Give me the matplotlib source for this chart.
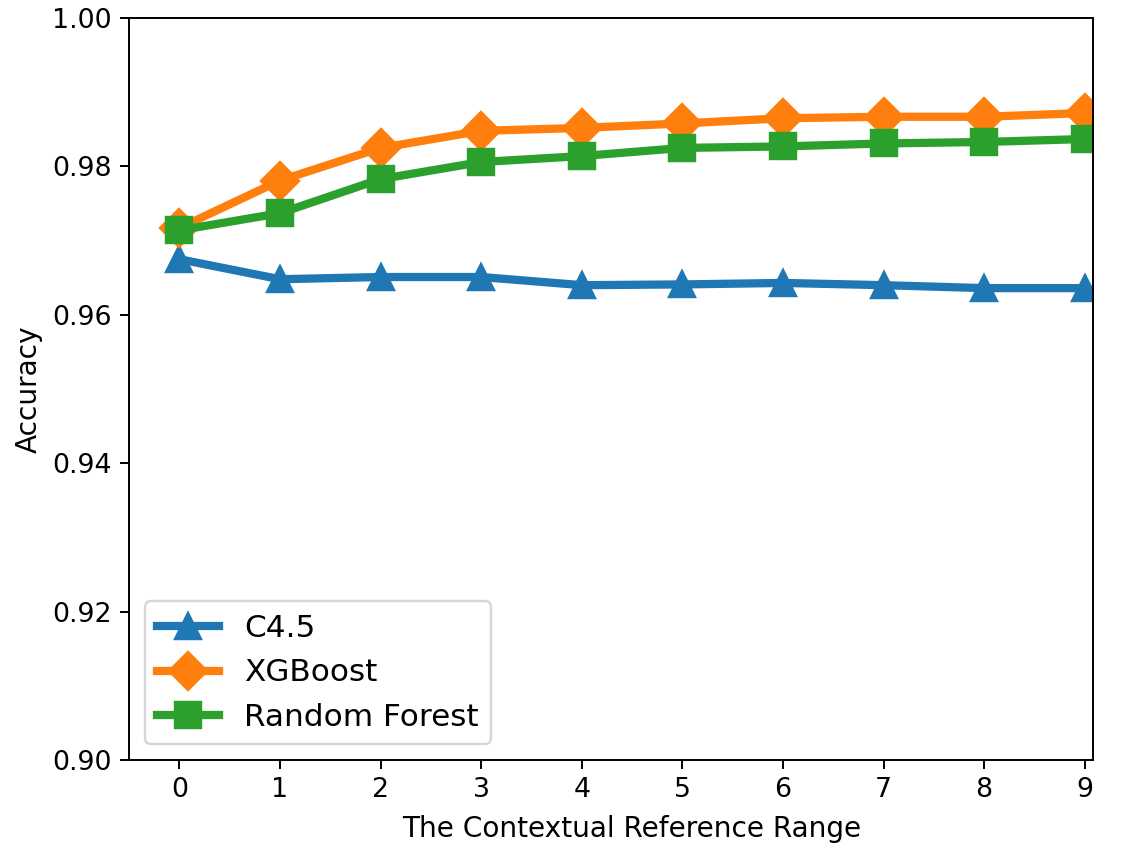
import matplotlib
matplotlib.use('Agg')
import matplotlib.pyplot as plt

# values
ranges = [0, 1, 2, 3, 4, 5, 6, 7, 8, 9]
c45 = [0.9675, 0.9648, 0.9651, 0.9651, 0.9640, 0.9641, 0.9643, 0.9640, 0.9636, 0.9636]
xgboost = [0.9717, 0.9781, 0.9825, 0.9848, 0.9852, 0.9858, 0.9865, 0.9867, 0.9867, 0.9872]
random_forest = [0.9714, 0.9737, 0.9783, 0.9806, 0.9814, 0.9825, 0.9827, 0.9831, 0.9833, 0.9837]

fig = plt.figure(figsize=(1122 / 175, 845 / 175), dpi=175)
ax = fig.add_axes([0.115, 0.1006, 0.859, 0.878])

ax.plot(ranges, c45, marker='^', linewidth=3.4, markersize=11, label='C4.5')
ax.plot(ranges, xgboost, marker='D', linewidth=3.4, markersize=11, label='XGBoost')
ax.plot(ranges, random_forest, marker='s', linewidth=3.4, markersize=11, label='Random Forest')

ax.set_xlim(-0.5, 9.08)
ax.set_ylim(0.90, 1.00)
ax.set_xticks(ranges)
ax.tick_params(labelsize=11)
ax.set_xlabel('The Contextual Reference Range', fontsize=11.5)
ax.set_ylabel('Accuracy', fontsize=11.5)
# label sits a bit right of centre in the original
ax.xaxis.set_label_coords(0.522, -0.074)
ax.legend(loc='lower left', fontsize=12.8)

fig.savefig('out.png', dpi=175)
